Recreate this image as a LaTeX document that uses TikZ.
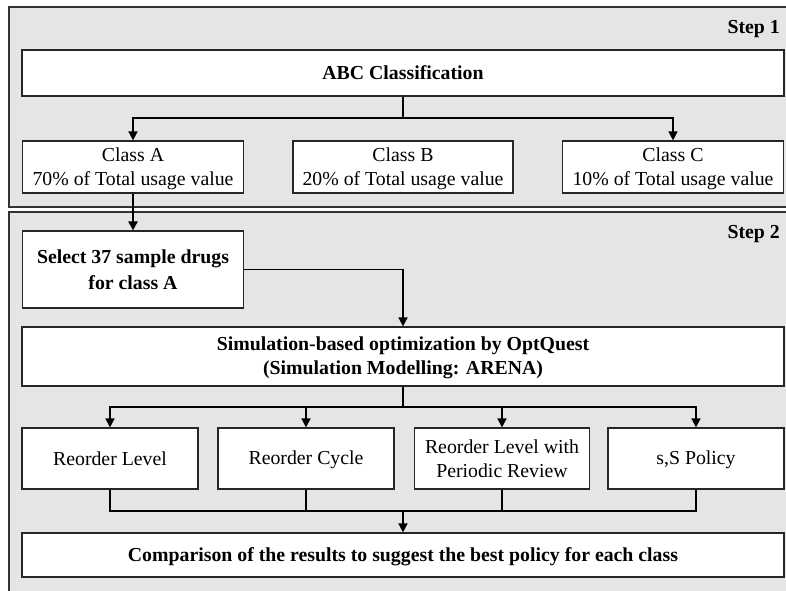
\documentclass[tikz,border=0pt]{standalone}
\usepackage{fontspec}
\setmainfont{Liberation Serif}
\usetikzlibrary{arrows.meta}
% line strut that keeps capitals centred on each line
\newcommand\bxs{\rule[-3.3pt]{0pt}{20pt}}
\begin{document}
\begin{tikzpicture}[x=1pt,y=-1pt,
  panel/.style={draw=black!80, line width=1.3pt, fill=black!10},
  box/.style={draw=black!85, line width=1.2pt, fill=white, inner sep=0pt,
    align=center, font=\fontsize{19.8}{24}\selectfont},
  boldbox/.style={box, font=\fontsize{19.8}{24}\selectfont\bfseries},
  steplabel/.style={anchor=east, inner sep=0pt, font=\fontsize{19.8}{24}\selectfont\bfseries},
  link/.style={draw=black, line width=1.6pt},
  arrow/.style={link, -{Triangle[width=9pt,length=9pt]}}]
\useasboundingbox (0,0) rectangle (786,590);
\fill[white] (0,0) rectangle (786,590);
\begin{scope}
\clip (0,0) rectangle (786,590);
% the two step panels
\draw[panel] (9,7) rectangle (792,207);
\draw[panel] (9,212) rectangle (792,600);
\end{scope}
\node[steplabel] (s1) at (780,27) {\bxs Step 1};
\node[steplabel] (s2) at (780,232) {\bxs Step 2};

% step 1
\node[boldbox, minimum width=762pt, minimum height=46pt] (abc) at (403,73) {\bxs ABC Classification};
\node[box, minimum width=221pt, minimum height=52pt] (ca) at (133,167) {\bxs Class A\\\bxs 70\% of Total usage value};
\node[box, minimum width=220pt, minimum height=52pt] (cb) at (403,167) {\bxs Class B\\\bxs 20\% of Total usage value};
\node[box, minimum width=221pt, minimum height=52pt] (cc) at (673,167) {\bxs Class C\\\bxs 10\% of Total usage value};

% step 2
\node[boldbox, minimum width=221pt, minimum height=77pt, font=\fontsize{19.8}{26}\selectfont\bfseries] (sel) at (133,269.5) {\bxs Select 37 sample drugs\\\bxs for class A};
\node[boldbox, minimum width=762pt, minimum height=59pt] (sim) at (403,356.5) {\bxs Simulation-based optimization by OptQuest\\\bxs (Simulation Modelling: ARENA)};
\node[box, minimum width=176pt, minimum height=61pt] (p1) at (110,458.5) {\bxs Reorder Level};
\node[box, minimum width=176pt, minimum height=61pt] (p2) at (306,458.5) {\bxs Reorder Cycle};
\node[box, minimum width=175pt, minimum height=61pt] (p3) at (502,458.5) {\bxs Reorder Level with\\\bxs Periodic Review};
\node[box, minimum width=176pt, minimum height=61pt] (p4) at (696,458.5) {\bxs s,S Policy};
\node[boldbox, minimum width=762pt, minimum height=44pt] (cmp) at (403,555) {\bxs Comparison of the results to suggest the best policy for each class};

% connectors
\coordinate (split1) at (403,118);
\draw[link] (abc.south) -- (split1);
\draw[arrow] (split1) -| (ca.north);
\draw[arrow] (split1) -| (cc.north);
\draw[arrow, line width=2.5pt] (ca.south) -- (sel.north);
\draw[arrow] (sel.east) -| (sim.north);
\coordinate (split2) at (403,407);
\draw[link] (sim.south) -- (split2);
\draw[arrow] (split2) -| (p1.north);
\draw[arrow] (split2) -| (p2.north);
\draw[arrow] (split2) -| (p3.north);
\draw[arrow] (split2) -| (p4.north);
\coordinate (merge) at (403,511);
\draw[link] (p1.south) |- (merge);
\draw[link] (p2.south) |- (merge);
\draw[link] (p3.south) |- (merge);
\draw[link] (p4.south) |- (merge);
\draw[arrow] (merge) -- (cmp.north);
\end{tikzpicture}
\end{document}
